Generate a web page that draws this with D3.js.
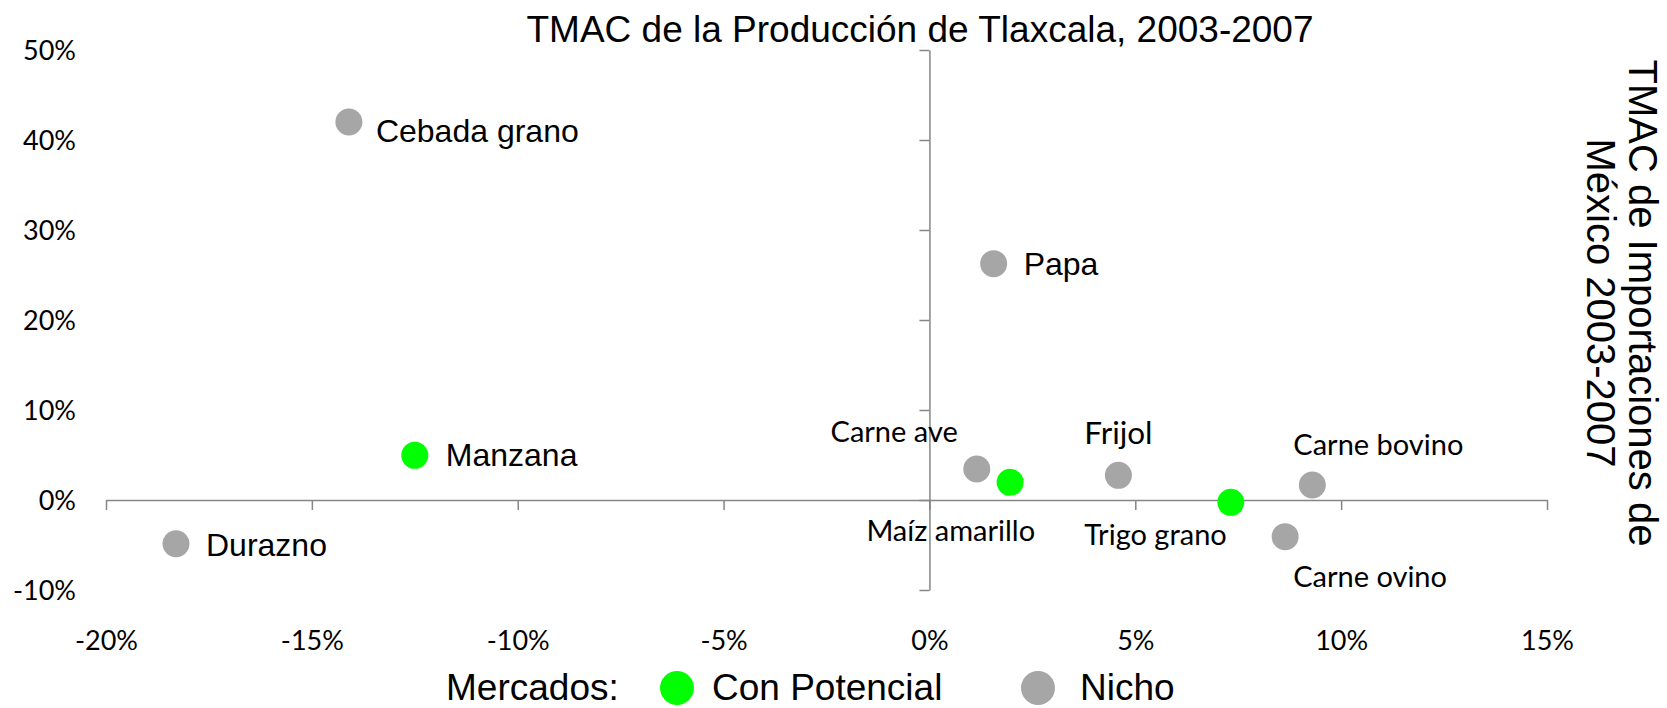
<!DOCTYPE html>
<html>
<head>
<meta charset="utf-8">
<script src="https://cdn.jsdelivr.net/npm/d3@7"></script>
<style>
  body { margin: 0; background: #fff; }
  svg { display: block; }
</style>
</head>
<body>
<div id="vis"></div>
<script>
// Products and their growth rates (TMAC)
const products = ["Cebada grano", "Papa", "Manzana", "Durazno", "Carne ave",
  "Maíz amarillo", "Frijol", "Trigo grano", "Carne ovino", "Carne bovino"];
const prodTlaxcala = [-0.141, 0.0156, -0.125, -0.183, 0.0115,
  0.0196, 0.0459, 0.0732, 0.0864, 0.0930];
const impMexico = [0.420, 0.2626, 0.0496, -0.0486, 0.0344,
  0.0196, 0.0274, -0.0026, -0.0407, 0.0167];
const market = ["Nicho", "Nicho", "Con Potencial", "Nicho", "Nicho",
  "Con Potencial", "Nicho", "Con Potencial", "Nicho", "Nicho"];

const xTicks = [-0.20, -0.15, -0.10, -0.05, 0, 0.05, 0.10, 0.15];
const yTicks = [-0.10, 0, 0.10, 0.20, 0.30, 0.40, 0.50];
const legendItems = ["Con Potencial", "Nicho"];

const W = 1667, H = 708;
const colors = { "Con Potencial": "#00ff00", "Nicho": "#a6a6a6" };
const sans = "'Liberation Sans', Arial, sans-serif";
const soft = "Lato, 'Open Sans', sans-serif";

// label placement, like excel's per-label positions
const labelPos = {
  "Cebada grano": { anchor: "start", dx: 27, dy: 20, font: sans, size: 32 },
  "Papa": { anchor: "start", dx: 30, dy: 11, font: sans, size: 32 },
  "Manzana": { anchor: "start", dx: 31, dy: 11, font: sans, size: 32 },
  "Durazno": { anchor: "start", dx: 30, dy: 12, font: sans, size: 32 },
  "Carne ave": { anchor: "end", dx: -19, dy: -27, font: soft, size: 29 },
  "Maíz amarillo": { anchor: "end", dx: 25, dy: 59, font: soft, size: 29 },
  "Frijol": { anchor: "middle", dx: 0, dy: -31, font: soft, size: 31.5 },
  "Trigo grano": { anchor: "end", dx: -4, dy: 43, font: soft, size: 29 },
  "Carne ovino": { anchor: "start", dx: 8, dy: 50, font: soft, size: 29 },
  "Carne bovino": { anchor: "start", dx: -19, dy: -30, font: soft, size: 29 }
};

const data = products.map((name, i) => ({
  name, x: prodTlaxcala[i], y: impMexico[i], market: market[i]
}));

const svg = d3.select("#vis")
  .append("svg")
  .attr("width", W)
  .attr("height", H)
  .style("background", "#fff");

const x = d3.scaleLinear().domain([-0.20, 0.15]).range([106, 1547]);
const y = d3.scaleLinear().domain([-0.10, 0.50]).range([590, 50]);
const pct = d => Math.round(d * 100) + "%";

// axis lines crossing at 0,0
svg.append("g")
  .attr("transform", `translate(0, ${y(0)})`)
  .call(d3.axisBottom(x).tickValues(xTicks).tickSize(10).tickSizeOuter(0).tickFormat(""))
  .call(g => g.selectAll("line, path").attr("stroke", "#868686").attr("stroke-width", 1.5));

svg.append("g")
  .attr("transform", `translate(${x(0)}, 0)`)
  .call(d3.axisLeft(y).tickValues(yTicks).tickSize(10).tickSizeOuter(0).tickFormat(""))
  .call(g => g.selectAll("line, path").attr("stroke", "#868686").attr("stroke-width", 1.5));

// tick labels sit at the low edge
svg.append("g")
  .attr("transform", "translate(0, 641)")
  .call(d3.axisBottom(x).tickValues(xTicks).tickSize(0).tickPadding(0).tickFormat(pct))
  .call(g => g.select(".domain").remove())
  .call(g => g.selectAll("text")
    .attr("y", 0).attr("dy", "0.35em")
    .attr("font-family", soft).attr("font-size", 27).attr("fill", "#000"));

svg.append("g")
  .attr("transform", "translate(76, 0)")
  .call(d3.axisLeft(y).tickValues(yTicks).tickSize(0).tickPadding(0).tickFormat(pct))
  .call(g => g.select(".domain").remove())
  .call(g => g.selectAll("text")
    .attr("dy", "0.35em")
    .attr("font-family", soft).attr("font-size", 27).attr("fill", "#000"));

// points
svg.selectAll("circle.pt")
  .data(data)
  .join("circle")
  .attr("class", "pt")
  .attr("cx", d => x(d.x))
  .attr("cy", d => y(d.y))
  .attr("r", 13.5)
  .attr("fill", d => colors[d.market]);

svg.selectAll("text.lbl")
  .data(data)
  .join("text")
  .attr("class", "lbl")
  .attr("x", d => x(d.x) + labelPos[d.name].dx)
  .attr("y", d => y(d.y) + labelPos[d.name].dy)
  .attr("text-anchor", d => labelPos[d.name].anchor)
  .attr("font-family", d => labelPos[d.name].font)
  .attr("font-size", d => labelPos[d.name].size)
  .attr("fill", "#000")
  .text(d => d.name);

// title
svg.append("text")
  .attr("x", 920)
  .attr("y", 42)
  .attr("text-anchor", "middle")
  .attr("font-family", sans)
  .attr("font-size", 37)
  .text("TMAC de la Producción de Tlaxcala, 2003-2007");

// right side axis title, rotated
const yt = svg.append("text")
  .attr("transform", "translate(1643, 303) rotate(90)")
  .attr("text-anchor", "middle")
  .attr("font-family", sans)
  .attr("font-size", 40);
yt.append("tspan").attr("x", 0).attr("dy", "0.35em").text("TMAC de Importaciones de");
yt.append("tspan").attr("x", 0).attr("dy", "1.05em").text("México 2003-2007");

// legend
const legend = svg.append("g").attr("font-family", sans).attr("font-size", 37);
legend.append("text").attr("x", 446).attr("y", 700).text("Mercados:");
const legX = { "Con Potencial": 677, "Nicho": 1038 };
legendItems.forEach(k => {
  legend.append("circle")
    .attr("cx", legX[k]).attr("cy", 688).attr("r", 17)
    .attr("fill", colors[k]);
  legend.append("text")
    .attr("x", legX[k] + (k === "Nicho" ? 42 : 35)).attr("y", 700)
    .text(k);
});
</script>
</body>
</html>
